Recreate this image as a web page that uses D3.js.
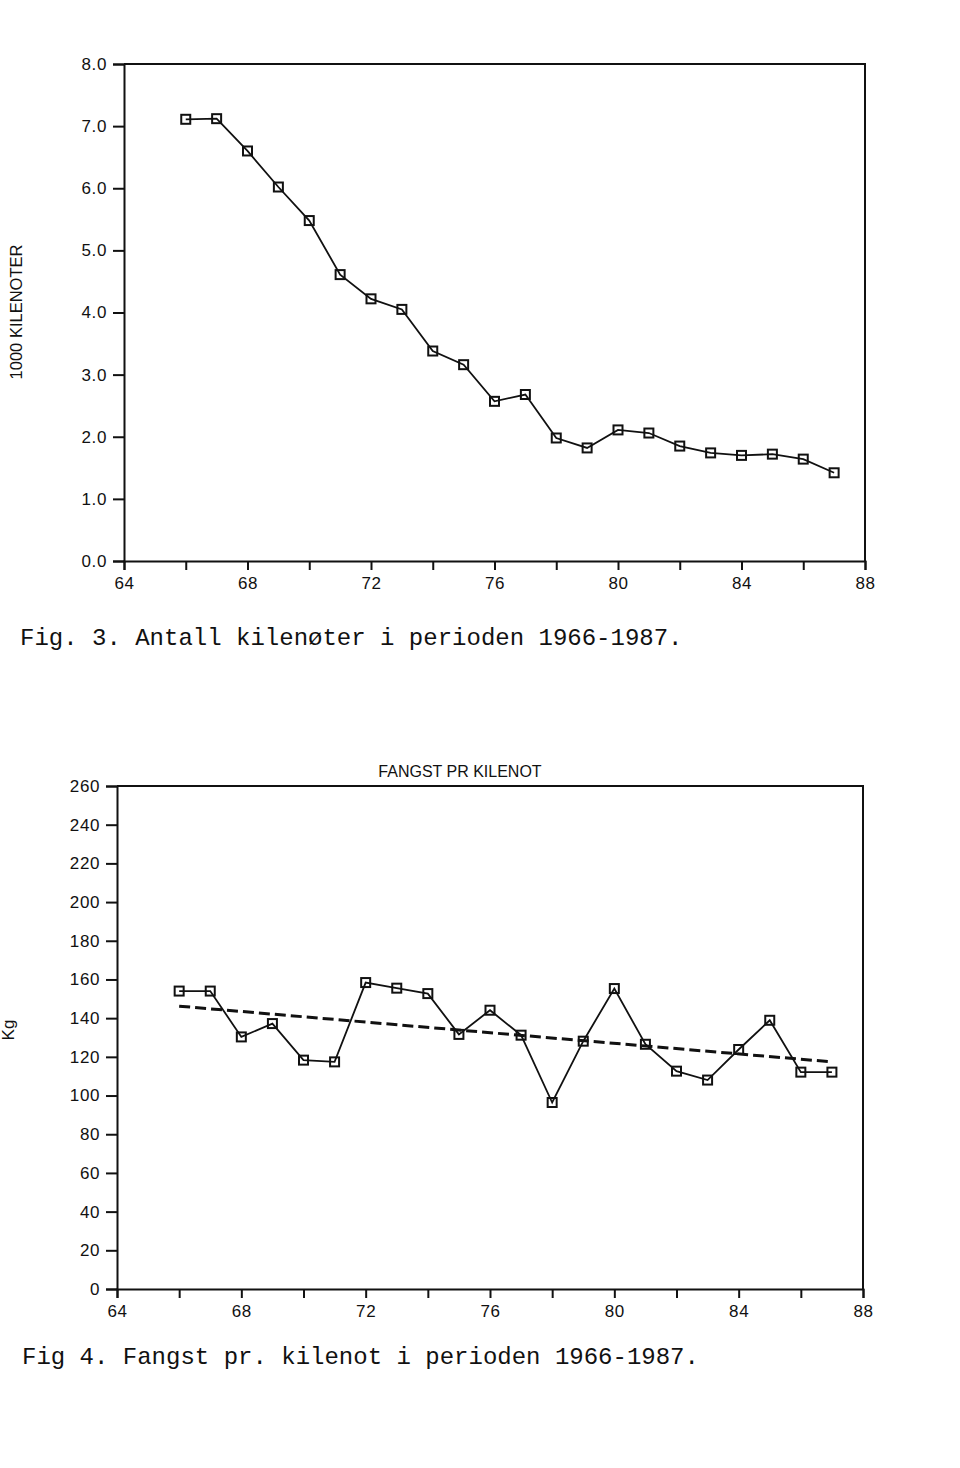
<!DOCTYPE html>
<html><head><meta charset="utf-8">
<script src="https://cdn.jsdelivr.net/npm/d3@7"></script>
<style>
body{margin:0;background:#fff;}
svg{display:block;}
</style></head><body>
<svg id="c" width="960" height="1468"></svg>
<script>
// ---- data ----
const years = [66,67,68,69,70,71,72,73,74,75,76,77,78,79,80,81,82,83,84,85,86,87];
const antall = [7.11,7.12,6.60,6.02,5.48,4.61,4.22,4.05,3.38,3.16,2.57,2.68,1.98,1.82,2.11,2.06,1.85,1.74,1.70,1.72,1.64,1.42];
const fangst = [154,154,130.3,137.2,118.3,117.4,158.4,155.5,152.7,131.6,144.1,131.2,96.4,128.1,155.3,126.5,112.6,108,123.8,138.9,112.1,112.1];
const trendYears = [66,87];
const trendVals = [146.2,117.4];
const xTicks = [64,66,68,70,72,74,76,78,80,82,84,86,88];
const xTickLabels = [64,68,72,76,80,84,88];
const yTicks1 = [0,1,2,3,4,5,6,7,8];
const yTicks2 = [0,20,40,60,80,100,120,140,160,180,200,220,240,260];

const svg = d3.select("#c");
const ink = "#111";
const sans = "Liberation Sans,Arial,sans-serif";

function panel(o){
  const x = d3.scaleLinear().domain([64,88]).range([o.x0,o.x1]);
  const y = d3.scaleLinear().domain(o.yDomain).range([o.y0,o.y1]);
  const g = svg.append("g");
  g.append("path").attr("d",`M${o.x0},${o.y1}H${o.x1}V${o.y0}`).attr("fill","none").attr("stroke",ink).attr("stroke-width",2);
  const ya = g.append("g").attr("transform",`translate(${o.x0},0)`)
    .call(d3.axisLeft(y).tickValues(o.yTicks).tickFormat(o.yFmt).tickSize(11).tickPadding(6));
  const xa = g.append("g").attr("transform",`translate(0,${o.y0})`)
    .call(d3.axisBottom(x).tickValues(xTicks).tickFormat(d=>xTickLabels.includes(d)?d:"").tickSize(9).tickPadding(7));
  [ya,xa].forEach(a=>{
    a.attr("font-family",sans).attr("font-size",17);
    a.selectAll("text").attr("fill",ink).attr("letter-spacing",0.6);
    a.select("path.domain").attr("stroke",ink).attr("stroke-width",2);
    a.selectAll(".tick line").attr("stroke",ink).attr("stroke-width",2);
  });
  const pts = years.map((yr,i)=>[x(yr),y(o.vals[i])]);
  g.append("path").attr("d",d3.line()(pts)).attr("fill","none").attr("stroke",ink).attr("stroke-width",1.8);
  const s = 9;
  g.selectAll("rect.m").data(pts).join("rect").attr("class","m")
    .attr("x",d=>d[0]-s/2).attr("y",d=>d[1]-s/2).attr("width",s).attr("height",s)
    .attr("fill","none").attr("stroke",ink).attr("stroke-width",2);
  return {x,y,g};
}

const p1 = panel({x0:124,x1:865,y0:561,y1:64,yDomain:[0,8],yTicks:yTicks1,yFmt:d3.format(".1f"),vals:antall});
svg.append("text").attr("transform","translate(22,312) rotate(-90)").attr("text-anchor","middle")
  .attr("font-family",sans).attr("font-size",16.5).attr("fill",ink).text("1000 KILENOTER");
svg.append("text").attr("x",20).attr("y",645).attr("font-family","Liberation Mono,Courier New,monospace")
  .attr("font-size",24).attr("fill",ink).text("Fig. 3. Antall kilenøter i perioden 1966-1987.");

const p2 = panel({x0:117,x1:863,y0:1289,y1:786,yDomain:[0,260],yTicks:yTicks2,yFmt:d3.format("d"),vals:fangst});
p2.g.append("path").attr("d",d3.line()(trendYears.map((t,i)=>[p2.x(t),p2.y(trendVals[i])])))
  .attr("fill","none").attr("stroke",ink).attr("stroke-width",3).attr("stroke-dasharray","11,5");
svg.append("text").attr("x",460).attr("y",777).attr("text-anchor","middle")
  .attr("font-family",sans).attr("font-size",16).attr("fill",ink).text("FANGST PR KILENOT");
svg.append("text").attr("transform","translate(14,1030) rotate(-90)").attr("text-anchor","middle")
  .attr("font-family",sans).attr("font-size",17).attr("fill",ink).text("Kg");
svg.append("text").attr("x",22).attr("y",1364).attr("font-family","Liberation Mono,Courier New,monospace")
  .attr("font-size",24).attr("fill",ink).text("Fig 4. Fangst pr. kilenot i perioden 1966-1987.");
</script></body></html>
